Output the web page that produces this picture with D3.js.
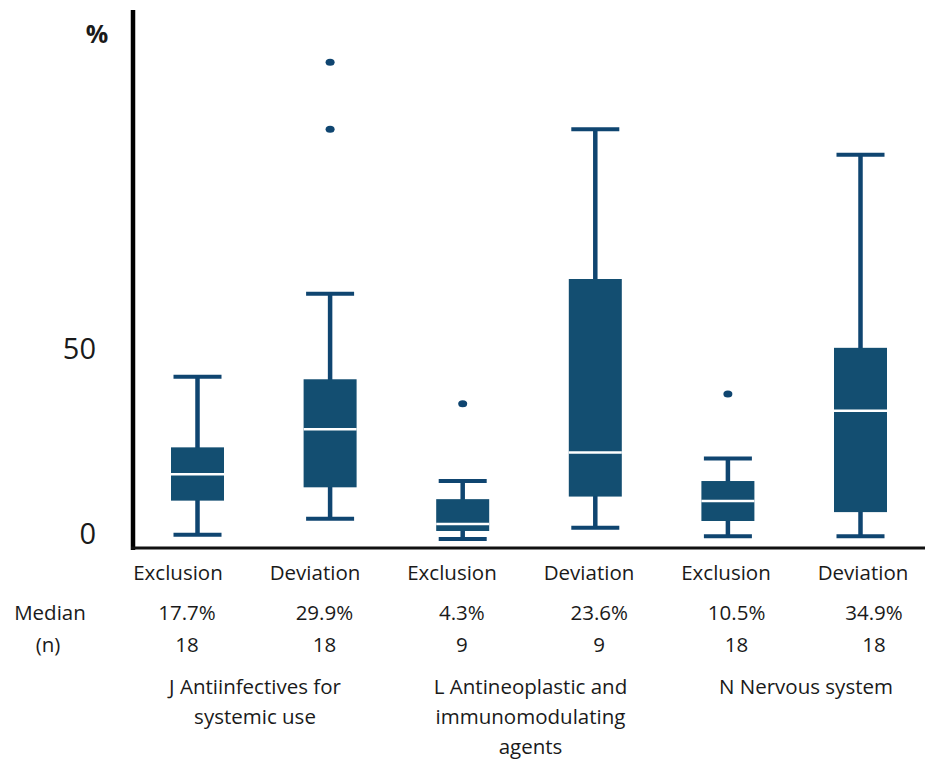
<!DOCTYPE html>
<html>
<head>
<meta charset="utf-8">
<script src="https://cdn.jsdelivr.net/npm/d3@7"></script>
<style>
  body { margin: 0; background: #fff; }
  text { font-family: "Open Sans", Arial, sans-serif; fill: #1a1a1a; }
</style>
</head>
<body>
<script>
// Donnees
var boxLabels = ['Exclusion', 'Deviation', 'Exclusion', 'Deviation', 'Exclusion', 'Deviation']
var medianText = ['17.7%', '29.9%', '4.3%', '23.6%', '10.5%', '34.9%']
var nCounts = [18, 18, 9, 9, 18, 18]
var groupLabels = [
    ['J Antiinfectives for', 'systemic use'],
    ['L Antineoplastic and', 'immunomodulating', 'agents'],
    ['N Nervous system']
]

var whiskerLow = [1.4, 5.7, 0.2, 3.3, 1.0, 1.0]
var q1 = [10.6, 14.2, 2.4, 11.7, 5.1, 7.5]
var medians = [17.7, 29.9, 4.3, 23.6, 10.5, 34.9]
var q3 = [25.0, 43.4, 11.0, 70.5, 15.9, 51.9]
var whiskerHigh = [44.1, 66.5, 15.9, 111.0, 22.0, 104.1]
var outliers = [[], [129.1, 111.0], [36.8], [], [39.4], []]

var yTicks = [0, 50]

// Couleurs et dimensions
var colours = {
    box: '#134e71',
    whisker: '#0f4570',
    axis: '#111111'
}
var width = 925
var height = 762
var boxWidth = 53
var capWidth = 48

var boxes = boxLabels.map((d, i) => ({
    id: i,
    label: d,
    low: whiskerLow[i],
    q1: q1[i],
    median: medians[i],
    q3: q3[i],
    high: whiskerHigh[i],
    outliers: outliers[i]
}))

// Echelles
var y = d3.scaleLinear().domain([-2.2, 143.2]).range([548, 10])
var x = d3.scalePoint().domain(d3.range(6)).range([197.5, 860.5])
var xLabel = d3.scalePoint().domain(d3.range(6)).range([178, 863])
var xStat = d3.scalePoint().domain(d3.range(6)).range([187, 874])
var xGroup = d3.scalePoint().domain(d3.range(3)).range([255, 806])

var svg = d3.select('body').append('svg')
    .attr('width', width)
    .attr('height', height)

// Boites
var g = svg.selectAll('g.box').data(boxes).join('g')
    .attr('class', 'box')
    .attr('transform', d => `translate(${x(d.id)},0)`)

g.append('line')
    .attr('y1', d => y(d.low))
    .attr('y2', d => y(d.high))
    .attr('stroke', colours.whisker)
    .attr('stroke-width', 4.5)

g.selectAll('line.cap').data(d => [d.low, d.high]).join('line')
    .attr('class', 'cap')
    .attr('x1', -capWidth / 2)
    .attr('x2', capWidth / 2)
    .attr('y1', d => y(d))
    .attr('y2', d => y(d))
    .attr('stroke', colours.whisker)
    .attr('stroke-width', 4)

g.append('rect')
    .attr('x', -boxWidth / 2)
    .attr('width', boxWidth)
    .attr('y', d => y(d.q3))
    .attr('height', d => y(d.q1) - y(d.q3))
    .attr('fill', colours.box)

g.append('line')
    .attr('x1', -boxWidth / 2)
    .attr('x2', boxWidth / 2)
    .attr('y1', d => y(d.median))
    .attr('y2', d => y(d.median))
    .attr('stroke', '#ffffff')
    .attr('stroke-width', 2.5)

g.selectAll('ellipse').data(d => d.outliers).join('ellipse')
    .attr('cx', 0)
    .attr('cy', d => y(d))
    .attr('rx', 4.5)
    .attr('ry', 3.5)
    .attr('fill', colours.whisker)

// Axes
svg.append('line')
    .attr('x1', 133).attr('x2', 133)
    .attr('y1', y.range()[1]).attr('y2', y.range()[0] + 2)
    .attr('stroke', '#000').attr('stroke-width', 4.5)

svg.append('line')
    .attr('x1', 131).attr('x2', width)
    .attr('y1', y.range()[0]).attr('y2', y.range()[0])
    .attr('stroke', colours.axis).attr('stroke-width', 3)

svg.selectAll('text.ytick').data(yTicks).join('text')
    .attr('class', 'ytick')
    .attr('x', 96)
    .attr('y', d => y(d) - 6)
    .attr('dy', '0.36em')
    .attr('text-anchor', 'end')
    .attr('font-size', 29)
    .text(d => d)

svg.append('text')
    .attr('x', 97).attr('y', 43)
    .attr('text-anchor', 'middle')
    .attr('font-size', 25)
    .attr('font-weight', 'bold')
    .text('%')

// Libelles
svg.selectAll('text.cat').data(boxes).join('text')
    .attr('class', 'cat')
    .attr('x', d => xLabel(d.id))
    .attr('y', 580)
    .attr('text-anchor', 'middle')
    .attr('font-size', 20.5)
    .text(d => d.label)

svg.selectAll('text.med').data(medianText).join('text')
    .attr('class', 'med')
    .attr('x', (d, i) => xStat(i))
    .attr('y', 620)
    .attr('text-anchor', 'middle')
    .attr('font-size', 20.5)
    .text(d => d)

svg.selectAll('text.n').data(nCounts).join('text')
    .attr('class', 'n')
    .attr('x', (d, i) => xStat(i))
    .attr('y', 652)
    .attr('text-anchor', 'middle')
    .attr('font-size', 20.5)
    .text(d => d)

svg.append('text').attr('x', 50).attr('y', 620)
    .attr('text-anchor', 'middle').attr('font-size', 20.5).text('Median')
svg.append('text').attr('x', 48).attr('y', 652)
    .attr('text-anchor', 'middle').attr('font-size', 20.5).text('(n)')

svg.selectAll('text.group').data(groupLabels).join('text')
    .attr('class', 'group')
    .attr('x', (d, i) => xGroup(i))
    .attr('y', 694)
    .attr('text-anchor', 'middle')
    .attr('font-size', 20.5)
    .selectAll('tspan').data(d => d).join('tspan')
    .attr('x', function () { return this.parentNode.getAttribute('x') })
    .attr('dy', (d, i) => i === 0 ? 0 : 30)
    .text(d => d)
</script>
</body>
</html>
